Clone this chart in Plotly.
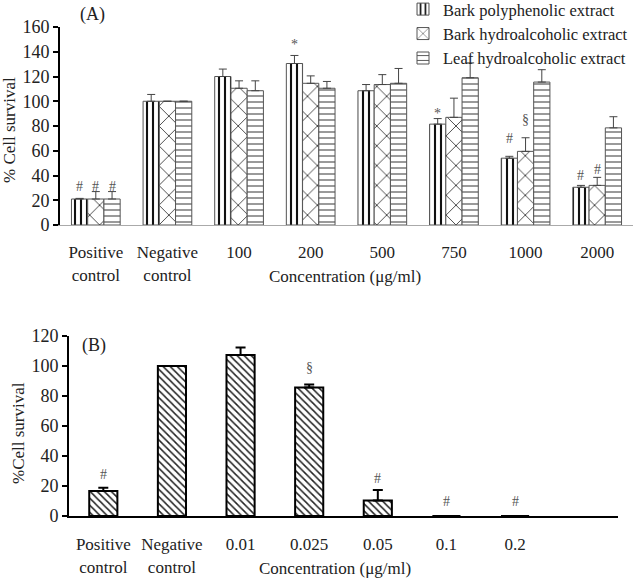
import plotly.graph_objects as go

# ---------------- Data ----------------
cats_a = ["Positive<br>control", "Negative<br>control", "100", "200", "500", "750", "1000", "2000"]
series_a = ["Bark polyphenolic extract", "Bark hydroalcoholic extract", "Leaf hydroalcoholic extract"]
bark_poly = [21, 100, 120, 130.5, 108.5, 81.5, 54, 30.5]
bark_poly_err = [0.5, 5.5, 6, 6.5, 5, 4.5, 1.5, 1.5]
bark_hydro = [21, 100, 110.5, 114.5, 113.5, 87, 59.5, 32]
bark_hydro_err = [6, 0, 6, 6, 8, 15.5, 11, 6.5]
leaf_hydro = [21, 100, 108.5, 110.5, 114.5, 119, 115.5, 78.5]
leaf_hydro_err = [6, 0, 8, 5.5, 12, 12, 10, 9]

# significance marks for panel A: (category index, series index, y, symbol)
marks_a = [(0, 0, 31, "#"), (0, 1, 31, "#"), (0, 2, 31, "#"),
           (3, 0, 146, "*"), (5, 0, 90, "*"), (6, 0, 70, "#"), (6, 1, 85, "§"),
           (7, 0, 40, "#"), (7, 1, 45, "#")]

cats_b = ["Positive<br>control", "Negative<br>control", "0.01", "0.025", "0.05", "0.1", "0.2"]
vals_b = [16.7, 100, 107.3, 85.6, 10.4, 0, 0]
err_b = [2.2, 0, 5, 2, 7, 0, 0]
# (category index, y, symbol)
marks_b = [(0, 28, "#"), (3, 99, "§"), (4, 25, "#"), (5, 10, "#"), (6, 10, "#")]

W, H = 633, 580
FONT = "Liberation Serif"
TXT = "#222222"

fig = go.Figure()

patterns = [dict(shape="|", size=6, solidity=0.35, fgcolor="#111", bgcolor="white", fillmode="replace"),
            dict(shape="x", size=14, solidity=0.12, fgcolor="#333", bgcolor="white", fillmode="replace"),
            dict(shape="-", size=6, solidity=0.2, fgcolor="#555", bgcolor="white", fillmode="replace")]
vals_a = [bark_poly, bark_hydro, leaf_hydro]
errs_a = [bark_poly_err, bark_hydro_err, leaf_hydro_err]
for i, name in enumerate(series_a):
    fig.add_trace(go.Bar(
        x=cats_a, y=vals_a[i], name=name, xaxis="x", yaxis="y",
        marker=dict(color="white", line=dict(color="#555", width=1), pattern=patterns[i]),
        error_y=dict(type="data", array=errs_a[i], arrayminus=[0] * len(cats_a), symmetric=False,
                     color="#444", thickness=1, width=4),
    ))

fig.add_trace(go.Bar(
    x=cats_b, y=vals_b, name="B", xaxis="x2", yaxis="y2", showlegend=False, width=0.41,
    marker=dict(color="white", line=dict(color="black", width=2),
                pattern=dict(shape="\\", size=5, solidity=0.3, fgcolor="#222", bgcolor="white", fillmode="replace")),
    error_y=dict(type="data", array=err_b, arrayminus=[0] * len(cats_b), symmetric=False,
                 color="black", thickness=2, width=5),
))

tickfont = dict(family=FONT, size=17, color=TXT)
ytickfont = dict(family=FONT, size=18, color=TXT)
fig.update_layout(
    width=W, height=H, margin=dict(l=0, r=0, t=0, b=0, autoexpand=False),
    paper_bgcolor="white", plot_bgcolor="white",
    barmode="group", bargap=0.32, bargroupgap=0,
    font=dict(family=FONT, size=17, color=TXT),
    xaxis=dict(domain=[60 / W, 1.0], anchor="y", type="category", range=[-0.5, 7.5],
               showline=True, linecolor="#aaaaaa", linewidth=1, ticks="", showgrid=False,
               tickfont=tickfont, ticklabelstandoff=12),
    yaxis=dict(domain=[1 - 225 / H, 1 - 27 / H], anchor="x", range=[0, 160], dtick=20,
               showline=True, linecolor="black", linewidth=2, ticks="outside", ticklen=5,
               tickwidth=2, tickcolor="black", showgrid=False, zeroline=False, tickfont=ytickfont),
    xaxis2=dict(domain=[69 / W, 618 / W], anchor="y2", type="category", range=[-0.5, 7.5],
                showline=True, linecolor="black", linewidth=2, ticks="", showgrid=False,
                tickfont=tickfont, ticklabelstandoff=12),
    yaxis2=dict(domain=[1 - 516 / H, 1 - 336 / H], anchor="x2", range=[0, 120], dtick=20,
                showline=True, linecolor="black", linewidth=2, ticks="outside", ticklen=5,
                tickwidth=2, tickcolor="black", showgrid=False, zeroline=False, tickfont=ytickfont),
    legend=dict(x=403 / W, xanchor="left", y=1.014, yanchor="top", font=dict(family=FONT, size=16.5, color=TXT),
                bgcolor="rgba(0,0,0,0)", tracegroupgap=0, itemwidth=30),
    showlegend=True,
)

ann = []
offs = [-16.3, 0, 16.3]
for ci, si, y, s in marks_a:
    ann.append(dict(x=ci, y=y, xref="x", yref="y", text=s, showarrow=False, xshift=offs[si],
                    font=dict(family=FONT, size=14, color="#555")))
for ci, y, s in marks_b:
    ann.append(dict(x=ci, y=y, xref="x2", yref="y2", text=s, showarrow=False,
                    font=dict(family=FONT, size=14, color="#555")))


def ptext(x, y, text, size=17, angle=0):
    return dict(x=x / W, y=1 - y / H, xref="paper", yref="paper", text=text, showarrow=False,
                xanchor="center", yanchor="middle", textangle=angle,
                font=dict(family=FONT, size=size, color=TXT))


ann += [
    ptext(92, 15, "(A)", 18),
    ptext(94, 345, "(B)", 18),
    ptext(345, 276, "Concentration (μg/ml)"),
    ptext(335, 568, "Concentration (μg/ml)"),
    ptext(9, 130, "% Cell survival", 17, -90),
    ptext(18, 433, "%Cell survival", 17, -90),
]
fig.update_layout(annotations=ann)

fig.write_html("out.html", config={"displayModeBar": False},
               post_script="document.body.style.margin='0';document.body.style.overflow='hidden';")
